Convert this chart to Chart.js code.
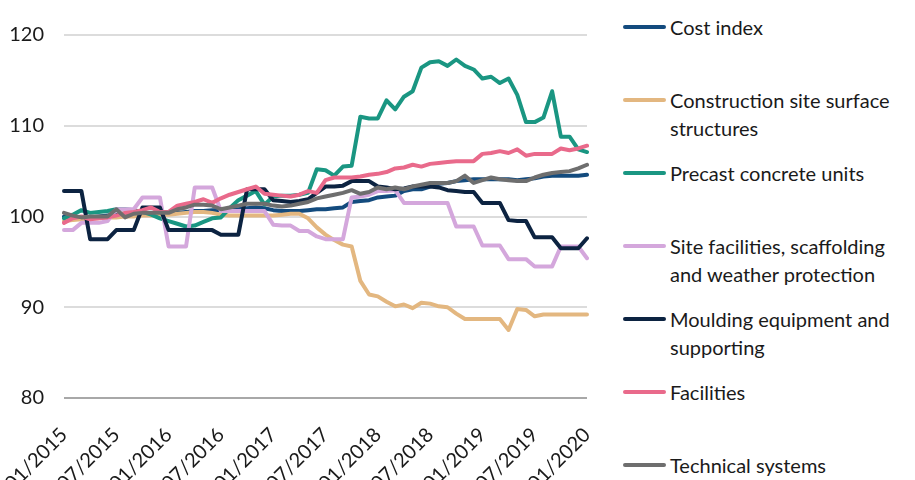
<!DOCTYPE html>
<html>
<head>
<meta charset="utf-8">
<script src="https://cdn.jsdelivr.net/npm/chart.js@4/dist/chart.umd.min.js"></script>
<style>
  body { margin: 0; background: #fff; font-family: Lato, "Noto Sans", sans-serif; }
  #wrap { position: relative; width: 915px; height: 480px; }
  #chartBox { position: absolute; left: 0; top: 0; width: 600px; height: 480px; }
  #legend { position: absolute; left: 623px; top: 13px; }
  .item { position: relative; height: 73px; padding-left: 47px; font-size: 20px; line-height: 28px; color: #1a1a1a; white-space: nowrap; }
  .item .mark { position: absolute; left: 0; top: 12px; width: 43px; height: 4px; border-radius: 2px; }
</style>
</head>
<body>
<div id="wrap">
  <div id="chartBox"><canvas id="indexChart" width="600" height="480"></canvas></div>
  <div id="legend"></div>
</div>
<script>
// monthly categories 01/2015 .. 01/2020
const months = [];
for (let y = 2015; y <= 2020; y++) {
    for (let m = 1; m <= 12; m++) {
        if (y === 2020 && m > 1) break;
        months.push(String(m).padStart(2, "0") + "/" + y);
    }
}

const costIndex = [
    100.0, 99.8, 99.8, 99.9, 100.0, 100.1, 100.2, 100.2, 100.3, 100.3,
    100.4, 100.3, 100.3, 100.4, 100.5, 100.6, 100.6, 100.7, 100.7, 100.7,
    100.8, 100.9, 101.0, 100.9, 100.7, 100.6, 100.6, 100.6, 100.7, 100.8,
    100.8, 100.9, 101.0, 101.6, 101.7, 101.8, 102.1, 102.2, 102.3, 102.8,
    103.0, 103.0, 103.3, 103.6, 103.7, 103.9, 104.0, 104.1, 104.1, 104.1,
    104.1, 104.1, 104.0, 104.1, 104.2, 104.4, 104.5, 104.5, 104.5, 104.5,
    104.6
];
const construction = [
    99.5, 99.6, 99.7, 99.8, 99.8, 99.9, 99.9, 100.0, 100.0, 100.1,
    100.1, 100.2, 100.2, 100.3, 100.4, 100.5, 100.5, 100.4, 100.2, 100.1,
    100.1, 100.1, 100.1, 100.1, 100.1, 100.2, 100.3, 100.3, 99.8, 98.8,
    98.0, 97.4, 96.9, 96.7, 92.9, 91.4, 91.2, 90.6, 90.1, 90.3,
    89.9, 90.5, 90.4, 90.1, 90.0, 89.3, 88.7, 88.7, 88.7, 88.7,
    88.7, 87.5, 89.8, 89.7, 89.0, 89.2, 89.2, 89.2, 89.2, 89.2,
    89.2
];
const precast = [
    99.8, 100.2, 100.7, 100.4, 100.5, 100.6, 100.8, 100.8, 100.7, 100.5,
    100.2, 99.8, 99.5, 99.2, 98.9, 99.0, 99.4, 99.8, 99.9, 100.9,
    101.8, 102.3, 102.8, 101.3, 102.2, 102.3, 102.3, 102.4, 102.6, 105.2,
    105.1, 104.5, 105.5, 105.6, 111.0, 110.8, 110.8, 112.8, 111.8, 113.2,
    113.8, 116.4, 117.0, 117.1, 116.6, 117.3, 116.6, 116.2, 115.2, 115.4,
    114.7, 115.2, 113.4, 110.4, 110.4, 110.9, 113.8, 108.8, 108.8, 107.4,
    107.1
];
const siteFacilities = [
    98.5, 98.5, 99.3, 99.3, 99.3, 99.5, 100.8, 100.8, 100.8, 102.1,
    102.1, 102.1, 96.7, 96.7, 96.7, 103.2, 103.2, 103.2, 100.6, 100.6,
    100.6, 100.6, 100.6, 100.6, 99.1, 99.0, 99.0, 98.4, 98.4, 97.8,
    97.5, 97.5, 97.5, 102.1, 102.2, 102.4, 102.8, 102.8, 102.9, 101.5,
    101.5, 101.5, 101.5, 101.5, 101.5, 98.9, 98.9, 98.9, 96.8, 96.8,
    96.8, 95.3, 95.3, 95.3, 94.5, 94.5, 94.5, 96.7, 96.7, 96.7,
    95.4
];
const moulding = [
    102.8, 102.8, 102.8, 97.5, 97.5, 97.5, 98.5, 98.5, 98.5, 101.0,
    101.0, 101.0, 98.5, 98.5, 98.5, 98.5, 98.5, 98.5, 98.0, 98.0,
    98.0, 103.0, 103.0, 103.0, 101.8, 101.7, 101.6, 101.7, 101.9, 102.6,
    103.3, 103.3, 103.4, 103.9, 103.9, 103.9, 103.3, 103.2, 103.0, 103.1,
    103.3, 103.3, 103.3, 103.2, 102.9, 102.8, 102.7, 102.7, 101.5, 101.5,
    101.5, 99.6, 99.5, 99.5, 97.7, 97.7, 97.7, 96.5, 96.5, 96.5,
    97.6
];
const facilities = [
    99.3, 99.8, 100.0, 99.7, 99.8, 99.9, 100.1, 100.4, 100.5, 100.7,
    101.0, 100.5, 100.5, 101.2, 101.4, 101.6, 101.9, 101.5, 102.0, 102.4,
    102.7, 103.0, 103.3, 102.5, 102.4, 102.3, 102.2, 102.4, 102.8, 102.6,
    104.0, 104.3, 104.3, 104.3, 104.4, 104.6, 104.7, 104.9, 105.3, 105.4,
    105.7, 105.5, 105.8, 105.9, 106.0, 106.1, 106.1, 106.1, 106.9, 107.0,
    107.2, 107.0, 107.4, 106.7, 106.9, 106.9, 106.9, 107.5, 107.3, 107.5,
    107.8
];
const technical = [
    100.4, 100.1, 99.9, 100.0, 100.0, 100.0, 100.8, 99.9, 100.3, 100.4,
    100.4, 100.4, 100.4, 100.8, 101.0, 101.3, 101.3, 101.2, 100.8, 101.0,
    101.2, 101.4, 101.4, 101.4, 101.2, 101.1, 101.2, 101.4, 101.6, 102.0,
    102.2, 102.4, 102.6, 102.9, 102.5, 102.7, 103.2, 103.0, 103.2, 103.0,
    103.3, 103.5, 103.7, 103.7, 103.7, 103.9, 104.5, 103.7, 104.0, 104.3,
    104.1, 104.0, 103.9, 103.9, 104.3, 104.6, 104.8, 104.9, 105.0, 105.3,
    105.7
];

const seriesNames = [
    ["Cost index"],
    ["Construction site surface", "structures"],
    ["Precast concrete units"],
    ["Site facilities, scaffolding", "and weather protection"],
    ["Moulding equipment and", "supporting"],
    ["Facilities"],
    ["Technical systems"]
];
const seriesData = [costIndex, construction, precast, siteFacilities, moulding, facilities, technical];
const seriesColors = ["#134b7e", "#e3b780", "#1a9682", "#d4a7dc", "#0c2341", "#e96a8b", "#6e6e6e"];

const datasets = seriesData.map(function (d, i) {
    return {
        label: seriesNames[i].join(" "),
        data: d,
        borderColor: seriesColors[i],
        backgroundColor: seriesColors[i],
        borderWidth: 4,
        pointRadius: 0,
        borderJoinStyle: "round",
        borderCapStyle: "round",
        tension: 0,
        fill: false,
        order: seriesData.length - i   // later series drawn on top
    };
});

new Chart(document.getElementById("indexChart"), {
    type: "line",
    data: { labels: months, datasets: datasets },
    options: {
        responsive: false,
        animation: false,
        devicePixelRatio: 1,
        layout: { padding: { top: 35, right: 13, left: 0, bottom: 0 } },
        plugins: {
            legend: { display: false },
            tooltip: { enabled: false }
        },
        scales: {
            x: {
                type: "category",
                grid: { display: false },
                border: { display: false },
                ticks: {
                    autoSkip: false,
                    minRotation: 45,
                    maxRotation: 45,
                    padding: 17,
                    labelOffset: 0,
                    color: "#1a1a1a",
                    font: { family: "Lato", size: 20 },
                    callback: function (v, i) {
                        return i % 6 === 0 ? months[i] : null;
                    }
                },
                afterFit: function (s) {
                    s.height = 82;
                    s.paddingRight = 0;
                    s.paddingLeft = 0;
                }
            },
            y: {
                min: 80,
                max: 120,
                grid: {
                    drawTicks: false,
                    lineWidth: 2,
                    color: function (ctx) {
                        return ctx.tick && ctx.tick.value === 80 ? "#a8a8a8" : "#dcdcdc";
                    }
                },
                border: { display: false },
                ticks: {
                    stepSize: 10,
                    padding: 20,
                    color: "#1a1a1a",
                    font: { family: "Lato", size: 20 }
                },
                afterFit: function (s) { s.width = 64; }
            }
        }
    }
});

// legend on the right
const legend = document.getElementById("legend");
seriesNames.forEach(function (lines, i) {
    const item = document.createElement("div");
    item.className = "item";
    const mark = document.createElement("span");
    mark.className = "mark";
    mark.style.background = seriesColors[i];
    item.appendChild(mark);
    lines.forEach(function (t) {
        const row = document.createElement("div");
        row.textContent = t;
        item.appendChild(row);
    });
    legend.appendChild(item);
});
</script>
</body>
</html>
